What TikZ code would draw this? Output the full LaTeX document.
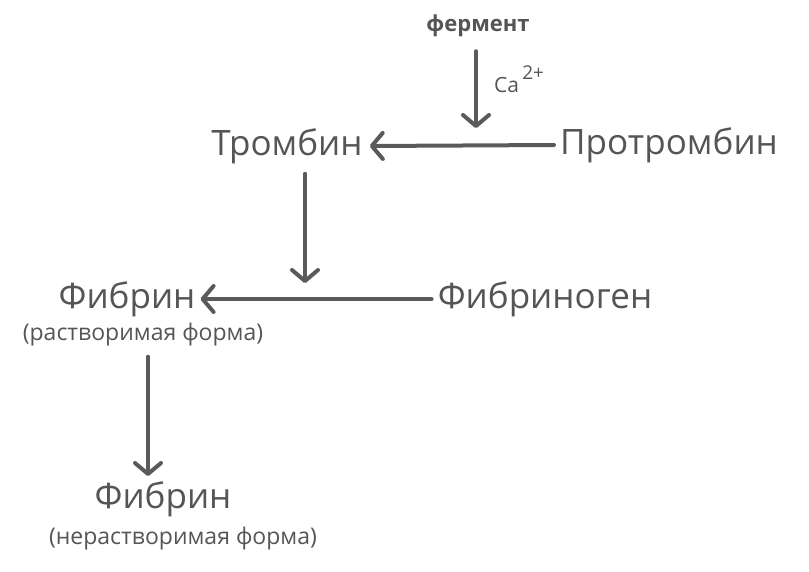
\documentclass[tikz,border=0pt]{standalone}
\usepackage{fontspec}
\setmainfont{Open Sans}
\usetikzlibrary{arrows.meta}
\definecolor{ink}{HTML}{555555}
\definecolor{arr}{HTML}{5A5A5A}
\begin{document}
\begin{tikzpicture}[x=1pt,y=-1pt,
  lbl/.style={inner sep=0pt,text=ink,font=\fontsize{35}{40}\selectfont},
  sub/.style={inner sep=0pt,text=ink,font=\fontsize{23}{26}\selectfont},
  conn/.style={draw=arr,line width=4pt,line cap=round,
    -{Straight Barb[length=11pt,width=26pt,line width=4pt,round]}}]
\useasboundingbox (0,0) rectangle (809,571);
\node[inner sep=0pt,text=ink,font=\fontsize{22}{26}\selectfont\bfseries] (ferm) at (478,26) {фермент};
\node[inner sep=0pt,text=ink,font=\fontsize{21}{24}\selectfont,anchor=base west] (ca) at (494,92) {Ca\raisebox{13pt}{\fontsize{19}{22}\selectfont\,2+}};
\node[lbl] (tromb) at (287,146) {Тромбин};
\node[lbl] (prot) at (669,145) {Протромбин};
\node[lbl] (fib1) at (127,299) {Фибрин};
\node[sub] (fib1s) at (143,335) {(растворимая форма)};
\node[lbl] (fibr) at (545,299) {Фибриноген};
\node[lbl] (fib2) at (163,499) {Фибрин};
\node[sub] (fib2s) at (183,539) {(нерастворимая форма)};
\coordinate (c1) at (476,128);
\coordinate (c2) at (305,283);
\draw[conn] (prot.west) ++(-6,0) -- ([xshift=7pt]tromb.east);
\draw[conn] (ferm.south -| c1) ++(0,14) -- (c1);
\draw[conn] (tromb.south -| c2) ++(0,10) -- (c2);
\draw[conn] (fibr.west) ++(-6,0) -- ([xshift=5pt]fib1.east);
\draw[conn] (fib1s.south -| 148,0) ++(0,10) -- (148,476);
\end{tikzpicture}
\end{document}
